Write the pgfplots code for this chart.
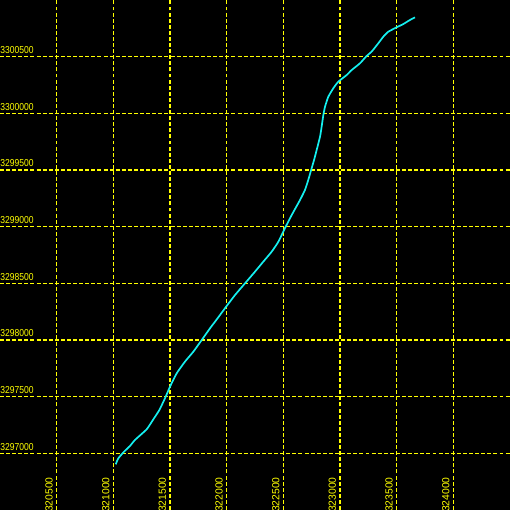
\documentclass[border=0pt]{standalone}
\usepackage{pgfplots}
\pgfplotsset{compat=1.18}
\usepackage{fontspec}
\setmainfont{Liberation Sans}
\newfontfamily\ylab[FakeStretch=0.85]{Liberation Sans}
\newfontfamily\xlab{Liberation Sans}
\definecolor{gridyel}{RGB}{255,255,0}
\definecolor{trk}{RGB}{20,240,240}
\begin{document}
\begin{tikzpicture}
\begin{axis}[
  width=360pt, height=360pt, scale only axis,
  xmin=320000, xmax=324500,
  ymin=3296500, ymax=3301000,
  axis background/.style={fill=black},
  axis line style={draw=none},
  major tick length=0pt,
  scaled ticks=false,
  xtick={320500,321000,321500,322000,322500,323000,323500,324000},
  xticklabels={320500,321000,321500,322000,322500,323000,323500,324000},
  ytick={3297000,3297500,3298000,3298500,3299000,3299500,3300000,3300500},
  yticklabels={3297000,3297500,3298000,3298500,3299000,3299500,3300000,3300500},
  grid=major,
  grid style={gridyel, line width=0.75pt, dash pattern=on 2.8pt off 1.5pt},
  yticklabel style={font=\ylab\fontsize{7.1}{7.5}\selectfont, text=gridyel, anchor=south west, inner sep=0pt, yshift=2pt},
  xticklabel style={font=\xlab\fontsize{7.3}{7.5}\selectfont, text=gridyel, xshift=-2.6pt, yshift=-1.5pt, rotate=90, anchor=south west, inner sep=0pt},
]
\addplot[trk, line width=1.2pt, smooth, tension=0.3] coordinates {
(321021,3296903) (321044,3296956) (321094,3297014) (321147,3297065)
(321191,3297118) (321294,3297212) (321353,3297300) (321406,3297382)
(321456,3297486) (321500,3297588) (321559,3297706) (321632,3297809)
(321706,3297897) (321780,3298000) (321853,3298103) (321926,3298200)
(322000,3298300) (322074,3298397) (322162,3298500) (322250,3298603)
(322323,3298691) (322397,3298779) (322456,3298867) (322515,3298988)
(322574,3299103) (322647,3299235) (322691,3299324) (322720,3299412)
(322741,3299485) (322771,3299588) (322794,3299676) (322824,3299794)
(322838,3299882) (322853,3299985) (322868,3300059) (322897,3300147)
(322941,3300221) (322985,3300279) (323059,3300338) (323103,3300382)
(323176,3300441) (323235,3300506) (323279,3300544) (323338,3300618)
(323382,3300676) (323426,3300720) (323500,3300759) (323559,3300788)
(323618,3300824) (323662,3300847)
};
\end{axis}
\pgfresetboundingbox
\path[use as bounding box] (current axis.south west) rectangle (current axis.north east);
\end{tikzpicture}
\end{document}
